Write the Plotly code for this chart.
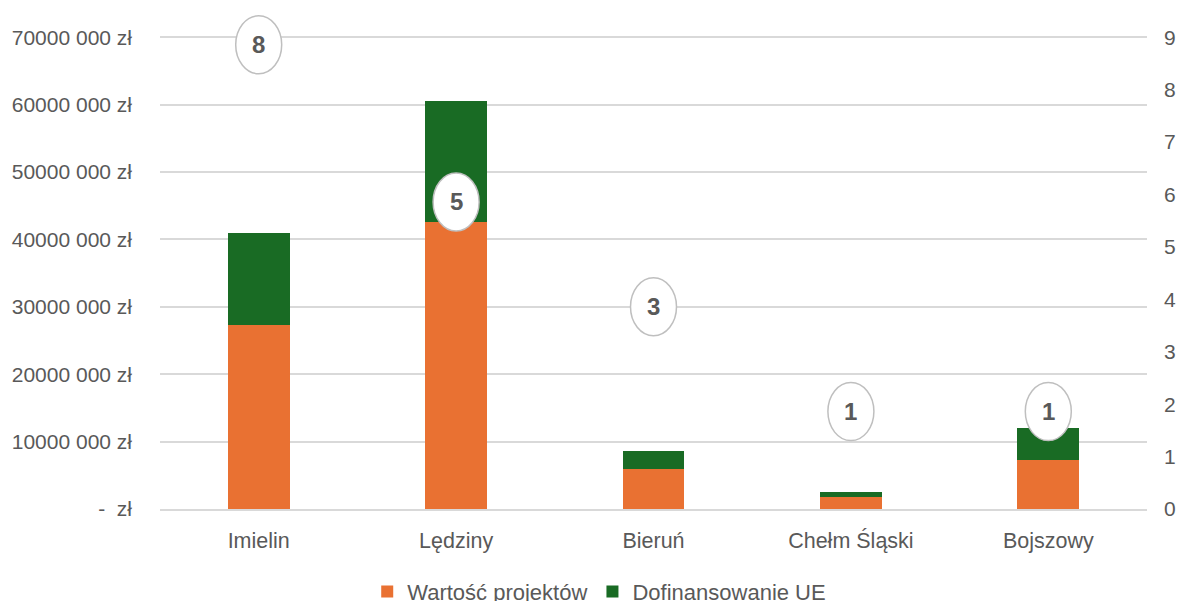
import plotly.graph_objects as go

categories = ["Imielin", "Lędziny", "Bieruń", "Chełm Śląski", "Bojszowy"]
wartosc = [27300000, 42600000, 5900000, 1800000, 7300000]
dofinansowanie = [13700000, 17900000, 2700000, 700000, 4700000]
liczba_projektow = [8, 5, 3, 1, 1]

left_tickvals = [0, 10000000, 20000000, 30000000, 40000000, 50000000, 60000000, 70000000]
left_ticktext = ["-  zł", "10000 000 zł", "20000 000 zł", "30000 000 zł", "40000 000 zł",
                 "50000 000 zł", "60000 000 zł", "70000 000 zł"]
Y1_MAX = 70000000
Y2_MAX = 9
PAD = 1.007  # small headroom so the top gridline is drawn

ORANGE = "#E97132"
GREEN = "#196B24"
TXT = "#595959"
FONT = "Liberation Sans, Arial, sans-serif"

fig = go.Figure()
fig.add_trace(go.Bar(x=categories, y=wartosc, name="Wartość projektów",
                     marker=dict(color=ORANGE, line=dict(width=0)), yaxis="y"))
fig.add_trace(go.Bar(x=categories, y=dofinansowanie, name="Dofinansowanie UE",
                     marker=dict(color=GREEN, line=dict(width=0)), yaxis="y"))
fig.add_trace(go.Scatter(x=categories, y=liczba_projektow, mode="markers",
                         marker=dict(opacity=0), showlegend=False, yaxis="y2",
                         hoverinfo="skip"))

shapes = []
annotations = []
for c, n in zip(categories, liczba_projektow):
    shapes.append(dict(type="circle", xref="x", yref="y2 domain",
                       xsizemode="pixel", ysizemode="pixel",
                       xanchor=c, yanchor=n / (Y2_MAX * PAD),
                       x0=-23, x1=23, y0=16, y1=74,
                       fillcolor="white", line=dict(color="#BFBFBF", width=1.5),
                       layer="above"))
    annotations.append(dict(x=c, y=n, xref="x", yref="y2", text=f"<b>{n}</b>",
                            showarrow=False, yshift=45,
                            font=dict(family=FONT, size=24, color=TXT)))

fig.update_layout(
    barmode="stack",
    bargap=0.686,
    width=1182, height=601,
    margin=dict(l=160, r=35, t=34, b=92, autoexpand=False),
    paper_bgcolor="white", plot_bgcolor="white",
    font=dict(family=FONT, size=21, color=TXT),
    xaxis=dict(showgrid=False, showline=True, linecolor="#d9d9d9", linewidth=1.5,
               ticks="", ticklabelstandoff=11, tickfont=dict(size=21.5, color=TXT)),
    yaxis=dict(range=[0, Y1_MAX * PAD], tickvals=left_tickvals, ticktext=left_ticktext,
               showgrid=True, gridcolor="#d9d9d9", gridwidth=1.5, zeroline=False,
               ticks="", ticklabelstandoff=27, tickfont=dict(size=21, color=TXT)),
    yaxis2=dict(range=[0, Y2_MAX * PAD], overlaying="y", side="right", showgrid=False,
                zeroline=False, tickvals=list(range(0, Y2_MAX + 1)), ticks="",
                tickfont=dict(size=21, color=TXT), ticklabelstandoff=16),
    legend=dict(orientation="h", x=0.445, xanchor="center", y=-0.13, yanchor="top",
                font=dict(size=22, color=TXT), traceorder="normal"),
    shapes=shapes,
    annotations=annotations,
)

fig.write_html("out.html", config={"displayModeBar": False},
               post_script="document.body.style.margin='0';")
